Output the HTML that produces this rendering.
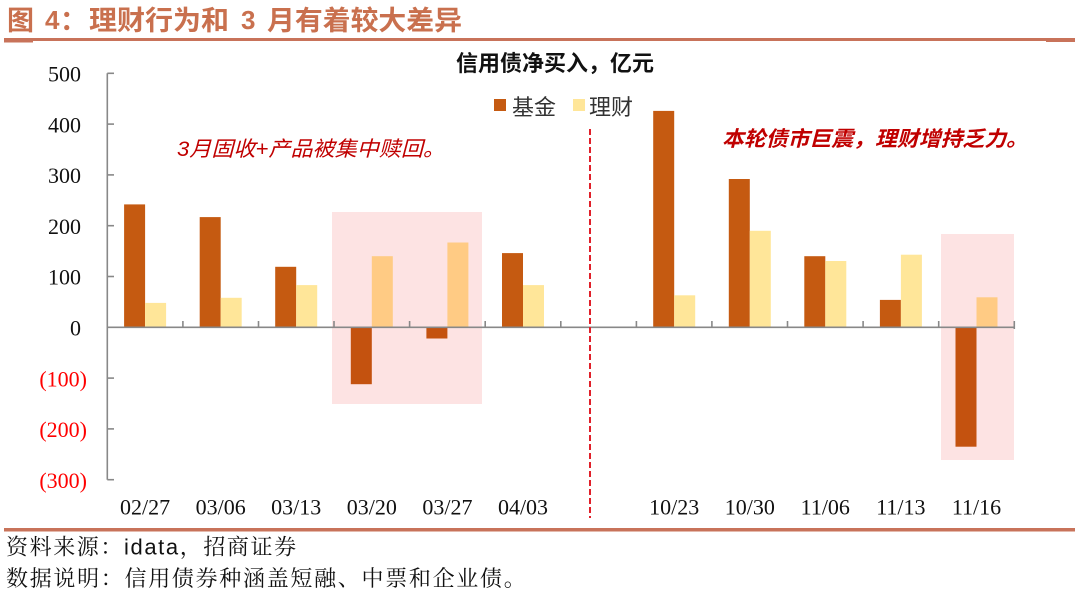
<!DOCTYPE html>
<html>
<head>
<meta charset="utf-8">
<style>
  html,body{margin:0;padding:0;background:#fff;}
  svg{display:block;}
</style>
</head>
<body>
<svg width="1080" height="592" viewBox="0 0 1080 592" xmlns="http://www.w3.org/2000/svg">
  <rect width="1080" height="592" fill="#fff"/>

  <!-- Title -->
  <g fill="#C9704E" font-weight="bold">
    <text x="7" y="30" font-family="'Noto Sans CJK SC', sans-serif" font-size="27">图</text>
    <text x="45" y="29" font-family="'Liberation Sans', sans-serif" font-size="26">4</text>
    <text x="60" y="30" font-family="'Noto Sans CJK SC', sans-serif" font-size="27">：</text>
    <text x="89" y="30" font-family="'Noto Sans CJK SC', sans-serif" font-size="27" textLength="140" lengthAdjust="spacingAndGlyphs">理财行为和</text>
    <text x="241" y="29" font-family="'Liberation Sans', sans-serif" font-size="26">3</text>
    <text x="267" y="30" font-family="'Noto Sans CJK SC', sans-serif" font-size="27" textLength="195" lengthAdjust="spacingAndGlyphs">月有着较大差异</text>
  </g>
  <rect x="4" y="38" width="1071" height="3" fill="#C8735A"/>
  <rect x="4" y="38" width="29" height="4.5" fill="#C8735A"/>
  <rect x="1046" y="38" width="29" height="4" fill="#C8735A"/>

  <!-- Chart title -->
  <text x="555" y="71" text-anchor="middle" font-family="'Liberation Sans','Noto Sans CJK SC', sans-serif" font-size="22" font-weight="bold" fill="#111">信用债净买入，亿元</text>

  <!-- Legend -->
  <rect x="494" y="99" width="12" height="12" fill="#C55A11"/>
  <text x="512" y="115" font-family="'Noto Sans CJK SC', sans-serif" font-size="22" fill="#333">基金</text>
  <rect x="573" y="99" width="12" height="12" fill="#FFE699"/>
  <text x="589" y="115" font-family="'Noto Sans CJK SC', sans-serif" font-size="22" fill="#333">理财</text>

  <!-- Pink highlight boxes -->
  <rect x="332" y="212" width="150" height="192" fill="#FDE3E3"/>
  <rect x="941" y="234" width="73" height="226" fill="#FDE3E3"/>

  <!-- Bars -->
  <g fill="#C55A11">
    <rect x="124.1" y="204.4" width="21" height="122.9"/>
    <rect x="199.7" y="217.1" width="21" height="110.2"/>
    <rect x="275.2" y="266.8" width="21" height="60.5"/>
    <rect x="502.0" y="253.1" width="21" height="74.2"/>
    <rect x="653.2" y="110.9" width="21" height="216.4"/>
    <rect x="728.8" y="179.0" width="21" height="148.3"/>
    <rect x="804.3" y="256.2" width="21" height="71.1"/>
    <rect x="879.9" y="299.9" width="21" height="27.4"/>
  </g>
  <g fill="#C4520F">
    <rect x="350.8" y="327.3" width="21" height="56.9"/>
    <rect x="426.4" y="327.3" width="21" height="11.2"/>
    <rect x="955.5" y="327.3" width="21" height="119.4"/>
  </g>
  <g fill="#FFE699">
    <rect x="145.1" y="302.9" width="21" height="24.4"/>
    <rect x="220.7" y="297.8" width="21" height="29.5"/>
    <rect x="296.2" y="285.1" width="21" height="42.2"/>
    <rect x="523.0" y="285.1" width="21" height="42.2"/>
    <rect x="674.2" y="295.3" width="21" height="32"/>
    <rect x="749.8" y="230.8" width="21" height="96.5"/>
    <rect x="825.3" y="261.0" width="21" height="66.3"/>
    <rect x="900.9" y="254.7" width="21" height="72.6"/>
  </g>
  <g fill="#FFCB84">
    <rect x="371.8" y="256.2" width="21" height="71.1"/>
    <rect x="447.4" y="242.5" width="21" height="84.8"/>
    <rect x="976.5" y="297.3" width="21" height="30"/>
  </g>

  <!-- Axes -->
  <g stroke="#888" stroke-width="1.6" fill="none">
    <line x1="107.3" y1="73.3" x2="107.3" y2="479.7"/>
    <line x1="107.3" y1="327.3" x2="1014.3" y2="327.3"/>
    <!-- y ticks -->
    <line x1="107.3" y1="73.3" x2="114" y2="73.3"/>
    <line x1="107.3" y1="124.1" x2="114" y2="124.1"/>
    <line x1="107.3" y1="174.9" x2="114" y2="174.9"/>
    <line x1="107.3" y1="225.7" x2="114" y2="225.7"/>
    <line x1="107.3" y1="276.5" x2="114" y2="276.5"/>
    <line x1="107.3" y1="378.1" x2="114" y2="378.1"/>
    <line x1="107.3" y1="428.9" x2="114" y2="428.9"/>
    <line x1="107.3" y1="479.7" x2="114" y2="479.7"/>
    <!-- x ticks -->
    <line x1="182.9" y1="321" x2="182.9" y2="327.3"/>
    <line x1="258.5" y1="321" x2="258.5" y2="327.3"/>
    <line x1="334.0" y1="321" x2="334.0" y2="327.3"/>
    <line x1="409.6" y1="321" x2="409.6" y2="327.3"/>
    <line x1="485.2" y1="321" x2="485.2" y2="327.3"/>
    <line x1="560.8" y1="321" x2="560.8" y2="327.3"/>
    <line x1="636.4" y1="321" x2="636.4" y2="327.3"/>
    <line x1="711.9" y1="321" x2="711.9" y2="327.3"/>
    <line x1="787.5" y1="321" x2="787.5" y2="327.3"/>
    <line x1="863.1" y1="321" x2="863.1" y2="327.3"/>
    <line x1="938.7" y1="321" x2="938.7" y2="327.3"/>
    <line x1="1014.3" y1="321" x2="1014.3" y2="329"/>
  </g>

  <!-- Y labels -->
  <g font-family="'Liberation Serif', serif" font-size="22" fill="#111" text-anchor="end">
    <text x="81" y="81.5">500</text>
    <text x="81" y="132.3">400</text>
    <text x="81" y="183.1">300</text>
    <text x="81" y="233.9">200</text>
    <text x="81" y="284.7">100</text>
    <text x="81" y="335.5">0</text>
  </g>
  <g font-family="'Liberation Serif', serif" font-size="22" fill="#FF0000" text-anchor="end">
    <text x="87" y="386.3">(100)</text>
    <text x="87" y="437.1">(200)</text>
    <text x="87" y="487.9">(300)</text>
  </g>

  <!-- X labels -->
  <g font-family="'Liberation Serif', serif" font-size="22" fill="#111" text-anchor="middle">
    <text x="145.1" y="514.5">02/27</text>
    <text x="220.7" y="514.5">03/06</text>
    <text x="296.2" y="514.5">03/13</text>
    <text x="371.8" y="514.5">03/20</text>
    <text x="447.4" y="514.5">03/27</text>
    <text x="523.0" y="514.5">04/03</text>
    <text x="674.2" y="514.5">10/23</text>
    <text x="749.8" y="514.5">10/30</text>
    <text x="825.3" y="514.5">11/06</text>
    <text x="900.9" y="514.5">11/13</text>
    <text x="976.5" y="514.5">11/16</text>
  </g>

  <!-- Dashed divider -->
  <line x1="590" y1="129" x2="590" y2="518" stroke="#E0202A" stroke-width="2" stroke-dasharray="6,3"/>

  <!-- Annotations -->
  <text x="177" y="156" font-family="'Liberation Sans','Noto Sans CJK SC', sans-serif" font-size="21" font-style="italic" fill="#C00000" textLength="268" lengthAdjust="spacingAndGlyphs">3月固收+产品被集中赎回。</text>
  <text x="722" y="146" font-family="'Liberation Sans','Noto Sans CJK SC', sans-serif" font-size="21" font-style="italic" font-weight="bold" fill="#C00000" textLength="306" lengthAdjust="spacingAndGlyphs">本轮债市巨震，理财增持乏力。</text>

  <!-- Footer -->
  <rect x="4" y="528" width="1071" height="3.5" fill="#C8735A"/>
  <text x="6" y="554.5" font-family="'Liberation Sans','Noto Serif CJK SC', serif" font-size="22" fill="#111" letter-spacing="1.6">资料来源：<tspan font-family="'Liberation Sans', sans-serif">idata</tspan>，招商证券</text>
  <text x="6" y="586" font-family="'Liberation Serif','Noto Serif CJK SC', serif" font-size="22" fill="#111" letter-spacing="1.7">数据说明：信用债券种涵盖短融、中票和企业债。</text>
</svg>
</body>
</html>
